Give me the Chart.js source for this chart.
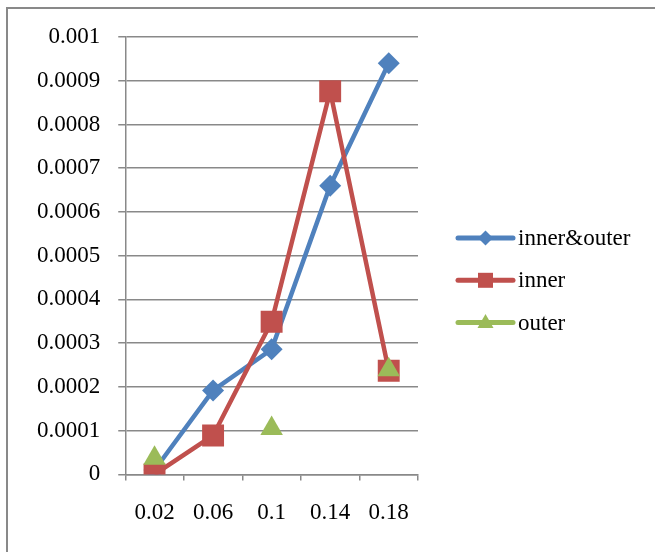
<!DOCTYPE html>
<html>
<head>
<meta charset="utf-8">
<script src="https://cdn.jsdelivr.net/npm/chart.js@4.4.0/dist/chart.umd.min.js"></script>
<style>
  html, body { margin: 0; padding: 0; background: #fff; }
  #wrap { position: relative; width: 655px; height: 552px; }
  #frame { position: absolute; left: 6px; top: 7px; width: 660px; height: 560px;
           border-left: 2px solid #898989; border-top: 2px solid #898989; }
  #chart { position: absolute; left: 0; top: 0; }
</style>
</head>
<body>
<div id="wrap">
  <div id="frame"></div>
  <canvas id="chart" width="655" height="552"></canvas>
</div>
<script>
const categories = ['0.02', '0.06', '0.1', '0.14', '0.18'];
const innerOuter = [0.00001, 0.000192, 0.000286, 0.00066, 0.00094];
const inner = [0, 0.000089, 0.000349, 0.000876, 0.000237];
const outer = [0.000037, null, 0.000105, null, 0.000239];
const yTicks = [0, 0.0001, 0.0002, 0.0003, 0.0004, 0.0005, 0.0006, 0.0007, 0.0008, 0.0009, 0.001];

const BLUE = '#4F81BD', RED = '#C0504D', GREEN = '#9BBB59';
const FONT = { family: '"Liberation Serif", "Times New Roman", serif', size: 23 };

// legend drawn like the Excel one: a short line with the marker in the middle
const sideLegend = {
  id: 'sideLegend',
  afterDraw(chart) {
    const ctx = chart.ctx;
    const area = chart.chartArea;
    const x0 = area.right + 40;
    const y0 = 238;
    chart.data.datasets.forEach((ds, i) => {
      const y = y0 + i * 42.3;
      ctx.save();
      ctx.strokeStyle = ds.borderColor;
      ctx.lineWidth = 5;
      ctx.lineCap = 'round';
      ctx.beginPath();
      ctx.moveTo(x0, y);
      ctx.lineTo(x0 + 55, y);
      ctx.stroke();
      const cx = x0 + 27.5;
      ctx.fillStyle = ds.pointBackgroundColor;
      ctx.beginPath();
      if (ds.pointStyle === 'rectRot') {
        ctx.moveTo(cx, y - 7.5); ctx.lineTo(cx + 7.5, y); ctx.lineTo(cx, y + 7.5); ctx.lineTo(cx - 7.5, y);
      } else if (ds.pointStyle === 'rect') {
        ctx.rect(cx - 7.5, y - 7.5, 15, 15);
      } else {
        ctx.moveTo(cx, y - 8.5); ctx.lineTo(cx + 8, y + 5.5); ctx.lineTo(cx - 8, y + 5.5);
      }
      ctx.closePath();
      ctx.fill();
      ctx.fillStyle = '#000';
      ctx.font = FONT.size + 'px ' + FONT.family;
      ctx.textBaseline = 'middle';
      ctx.fillText(ds.label, x0 + 60, y + 1);
      ctx.restore();
    });
  }
};

new Chart(document.getElementById('chart').getContext('2d'), {
  type: 'line',
  data: {
    labels: categories,
    datasets: [{
      label: 'inner&outer',
      data: innerOuter,
      borderColor: BLUE,
      backgroundColor: BLUE,
      pointBackgroundColor: BLUE,
      pointBorderWidth: 0,
      borderWidth: 4.5,
      pointStyle: 'rectRot',
      pointRadius: 11,
      order: 2
    }, {
      label: 'inner',
      data: inner,
      borderColor: RED,
      backgroundColor: RED,
      pointBackgroundColor: RED,
      pointBorderWidth: 0,
      borderWidth: 4.5,
      pointStyle: 'rect',
      pointRadius: 15.5,
      order: 1
    }, {
      label: 'outer',
      data: outer,
      borderColor: GREEN,
      backgroundColor: GREEN,
      pointBackgroundColor: GREEN,
      pointBorderWidth: 0,
      borderWidth: 4.5,
      pointStyle: 'triangle',
      pointRadius: 13,
      spanGaps: false,
      showLine: false,
      order: 0
    }]
  },
  options: {
    responsive: false,
    animation: false,
    layout: { padding: { left: 19, top: 37, right: 237, bottom: 6 } },
    plugins: { legend: { display: false }, tooltip: { enabled: false } },
    scales: {
      x: {
        offset: true,
        grid: { offset: true, drawOnChartArea: false, drawTicks: true, tickLength: 6, color: '#898989', lineWidth: 1.5 },
        border: { color: '#898989', width: 1.5 },
        ticks: { font: FONT, color: '#000', padding: 19, maxRotation: 0 }
      },
      y: {
        min: 0,
        max: 0.001,
        afterBuildTicks(axis) { axis.ticks = yTicks.map(v => ({ value: v })); },
        grid: { color: '#898989', lineWidth: 1.5, tickLength: 7 },
        border: { color: '#898989', width: 1.5 },
        ticks: {
          font: FONT,
          color: '#000',
          padding: 18,
          callback: v => String(Number(v.toFixed(4)))
        }
      }
    }
  },
  plugins: [sideLegend]
});
</script>
</body>
</html>
